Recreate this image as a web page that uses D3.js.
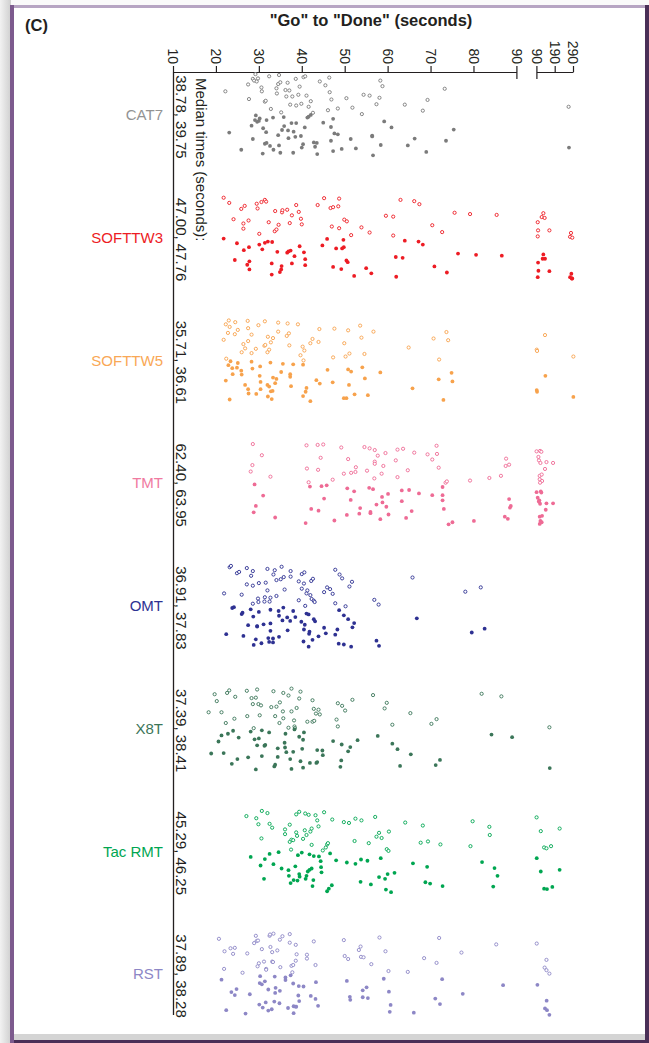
<!DOCTYPE html>
<html>
<head>
<meta charset="utf-8">
<script src="https://cdn.jsdelivr.net/npm/d3@7"></script>
<style>
  html, body { margin: 0; padding: 0; background: #fff; }
  svg { display: block; }
</style>
</head>
<body>
<svg id="chart"></svg>
<script>
// categories + labels
var categories = ["CAT7", "SOFTTW3", "SOFTTW5", "TMT", "OMT", "X8T", "Tac RMT", "RST"];
var medianLabels = ["38.78, 39.75", "47.00, 47.76", "35.71, 36.61", "62.40, 63.95",
                    "36.91, 37.83", "37.39, 38.41", "45.29, 46.25", "37.89, 38.28"];
var mainTicks = [10, 20, 30, 40, 50, 60, 70, 80, 90];
var tailTicks = [90, 190, 290];

// each point: [seconds, jitter] ; jitter -1..0 = open (upper half), 0..1 = filled (lower half)
var cat7Open = [[22.2,-0.55],[27.5,-0.71],[27.7,-0.37],[28.6,-0.84],[28.9,-0.80],[29.2,-0.95],[29.5,-0.78],[29.8,-0.85],[30.6,-0.64],[30.7,-0.55],[31.4,-0.31],[31.6,-0.33],[32.4,-0.90],[32.8,-0.14],[34.1,-0.62],[34.2,-0.50],[34.5,-0.72],[34.7,-0.93],[35.0,-0.76],[35.2,-0.06],[36.2,-0.58],[36.4,-0.43],[36.7,-0.75],[37.1,-0.57],[37.3,-0.24],[37.8,-0.43],[38.6,-0.84],[38.7,-0.22],[39.2,-0.47],[39.5,-0.66],[39.9,-0.26],[40.4,-0.88],[40.8,-0.90],[41.1,-0.45],[41.6,-0.19],[42.1,-0.32],[42.6,-0.05],[44.2,-0.78],[45.5,-0.69],[46.4,-0.87],[46.5,-0.53],[46.9,-0.36],[46.1,-0.11],[48.4,-0.15],[50.4,-0.39],[51.8,-0.17],[54.0,-0.02],[54.4,-0.47],[55.8,-0.45],[57.4,-0.25],[58.1,-0.40],[58.3,-0.80],[58.8,-0.67],[64.0,-0.24],[68.2,-0.10],[69.3,-0.35],[73.3,-0.61],[266,-0.19]];
var cat7Filled = [[23.1,0.41],[25.9,0.81],[28.3,0.25],[28.6,0.56],[29.1,0.12],[29.3,0.01],[29.6,0.16],[30.0,0.14],[30.2,0.08],[31.0,0.31],[30.9,0.90],[31.4,0.67],[31.8,0.65],[31.8,0.12],[31.7,0.40],[32.6,0.72],[33.3,0.06],[33.4,0.81],[34.5,0.47],[34.7,0.71],[35.0,0.88],[35.4,0.35],[35.8,0.05],[35.9,0.26],[36.8,0.36],[36.9,0.54],[37.6,0.19],[38.0,0.88],[38.1,0.39],[38.5,0.51],[38.7,0.19],[39.8,0.49],[40.0,0.76],[40.3,0.68],[40.7,0.29],[41.3,0.06],[41.6,0.04],[42.1,0.00],[42.8,0.64],[43.1,0.74],[43.5,0.65],[43.6,0.91],[45.0,0.18],[46.8,0.28],[46.8,0.60],[47.3,0.09],[47.3,0.84],[47.6,0.43],[48.4,0.45],[49.3,0.79],[51.4,0.56],[52.6,0.78],[56.4,0.48],[56.4,0.50],[56.6,0.94],[58.4,0.70],[59.2,0.15],[60.9,0.29],[64.7,0.71],[66.3,0.55],[69.0,0.86],[73.6,0.60],[75.4,0.34],[268,0.76]];

var softtw3Open = [[21.8,-0.93],[23.1,-0.81],[24.1,-0.43],[25.9,-0.67],[26.4,-0.33],[26.4,-0.21],[26.7,-0.74],[27.6,-0.40],[29.5,-0.79],[29.7,-0.68],[30.1,-0.09],[30.6,-0.83],[31.4,-0.88],[31.7,-0.84],[32.3,-0.36],[33.8,-0.62],[33.7,-0.15],[34.1,-0.19],[34.6,-0.30],[35.4,-0.59],[35.5,-0.64],[36.6,-0.65],[37.2,-0.34],[37.7,-0.52],[38.7,-0.76],[39.3,-0.60],[39.8,-0.44],[40.0,-0.31],[43.7,-0.76],[45.2,-0.92],[46.7,-0.69],[47.3,-0.71],[47.0,-0.26],[48.5,-0.73],[48.7,-0.91],[48.7,-0.22],[49.9,-0.42],[50.5,-0.38],[51.5,-0.06],[53.9,-0.24],[55.8,-0.12],[59.6,-0.51],[61.3,-0.49],[61.3,-0.05],[63.0,-0.88],[66.2,-0.85],[67.4,-0.78],[70.4,-0.29],[72.7,-0.13],[75.6,-0.58],[79.2,-0.55],[85.4,-0.53],[97.3,-0.36],[99.1,-0.17],[97.3,-0.03],[119,-0.48],[128,-0.57],[135,-0.46],[161,-0.17],[274,-0.02],[279,-0.11],[286,0.00]];
var softtw3Filled = [[21.8,0.02],[24.4,0.52],[24.9,0.13],[26.5,0.29],[27.3,0.63],[27.7,0.22],[27.8,0.55],[27.8,0.74],[30.1,0.16],[30.8,0.27],[31.4,0.12],[32.1,0.09],[33.1,0.10],[33.0,0.60],[33.0,0.86],[34.3,0.33],[34.9,0.80],[35.2,0.74],[35.3,0.66],[36.6,0.35],[36.9,0.32],[37.4,0.30],[37.7,0.60],[38.3,0.43],[39.5,0.20],[40.5,0.34],[40.8,0.50],[40.8,0.64],[44.8,0.18],[45.9,0.03],[47.3,0.68],[48.0,0.25],[49.2,0.73],[49.4,0.25],[49.7,0.05],[49.8,0.22],[50.4,0.53],[50.7,0.57],[52.2,0.89],[55.0,0.71],[56.2,0.83],[61.9,0.45],[62.0,0.91],[63.5,0.47],[64.0,0.07],[67.2,0.09],[68.2,0.16],[70.9,0.67],[73.8,0.81],[76.4,0.37],[80.6,0.40],[86.6,0.42],[97.3,0.92],[101,0.77],[99.1,0.58],[124,0.49],[128,0.39],[137,0.49],[161,0.78],[274,0.92],[281,0.84],[286,0.95],[283,0.95]];

var softtw5Open = [[21.8,-0.48],[22.3,-0.84],[22.8,-0.64],[23.0,-0.93],[23.2,-0.78],[24.4,-0.61],[24.5,-0.89],[25.1,-0.71],[26.0,-0.19],[26.4,-0.38],[26.8,-0.28],[27.4,-0.92],[27.5,-0.75],[27.5,-0.45],[28.3,-0.60],[28.3,-0.17],[29.3,-0.27],[29.9,-0.82],[31.4,-0.91],[31.3,-0.34],[31.5,-0.36],[32.0,-0.19],[32.1,-0.55],[32.4,-0.25],[32.8,-0.42],[33.3,-0.52],[34.5,-0.88],[34.5,-0.67],[36.5,-0.57],[36.7,-0.86],[37.0,-0.63],[37.1,-0.35],[39.1,-0.84],[39.7,-0.12],[40.2,-0.32],[40.6,-0.23],[42.0,-0.40],[42.5,-0.50],[43.9,-0.43],[44.1,-0.73],[47.3,-0.07],[47.6,-0.74],[49.9,-0.40],[50.2,-0.09],[50.8,-0.70],[51.1,-0.16],[53.6,-0.81],[53.9,-0.53],[54.6,-0.15],[56.7,-0.67],[64.9,-0.30],[70.7,-0.51],[72.0,-0.02],[73.7,-0.66],[74.1,-0.47],[22.4,-0.04],[40.4,0.00],[91.8,-0.25],[93.6,-0.22],[137,-0.59],[292,-0.09]];
var softtw5Filled = [[22.3,0.47],[22.9,0.11],[23.2,0.91],[23.4,0.02],[23.8,0.18],[23.9,0.32],[24.9,0.17],[25.1,0.06],[25.9,0.24],[26.0,0.33],[26.8,0.57],[27.5,0.67],[27.6,0.77],[28.3,0.03],[28.5,0.19],[29.4,0.78],[30.2,0.36],[30.3,0.14],[30.4,0.50],[30.4,0.67],[32.0,0.57],[32.1,0.84],[32.4,0.61],[32.7,0.05],[32.8,0.72],[33.0,0.90],[33.2,0.71],[33.3,0.40],[33.8,0.53],[34.1,0.43],[35.2,0.27],[35.6,0.08],[37.3,0.32],[37.3,0.38],[37.5,0.60],[38.0,0.09],[40.3,0.83],[40.3,0.10],[40.9,0.73],[41.1,0.64],[42.0,0.95],[43.4,0.46],[44.2,0.54],[46.0,0.22],[47.2,0.51],[49.8,0.88],[50.4,0.88],[50.8,0.21],[51.0,0.57],[51.5,0.26],[52.3,0.79],[54.1,0.16],[54.7,0.42],[55.4,0.81],[58.3,0.28],[65.8,0.65],[71.9,0.44],[73.0,0.92],[74.9,0.29],[75.1,0.49],[91.8,0.69],[93.6,0.73],[139,0.36],[292,0.85]];

var tmtOpen = [[28.6,-0.91],[30.7,-0.65],[28.5,-0.42],[28.1,-0.27],[32.7,-0.15],[41.1,-0.88],[43.7,-0.89],[45.0,-0.90],[41.2,-0.34],[41.6,-0.02],[43.8,-0.31],[44.4,-0.59],[47.2,-0.08],[49.2,-0.83],[50.8,-0.56],[49.8,-0.22],[51.5,-0.24],[52.5,-0.26],[52.6,-0.37],[54.6,-0.84],[55.8,-0.81],[57.0,-0.77],[57.7,-0.64],[57.0,-0.50],[57.0,-0.45],[56.9,-0.11],[55.2,-0.29],[58.6,-0.22],[59.0,-0.40],[59.5,-0.70],[61.9,-0.53],[62.3,-0.14],[62.3,-0.78],[63.6,-0.80],[64.7,-0.30],[66.2,-0.71],[69.3,-0.67],[70.4,-0.55],[71.4,-0.87],[71.5,-0.68],[71.9,-0.36],[73.5,-0.01],[73.8,-0.04],[79.2,-0.06],[83.7,-0.12],[86.4,-0.17],[87.5,-0.40],[87.6,-0.57],[88.3,-0.43],[91,-0.74],[110,-0.75],[117,-0.73],[101,-0.61],[104,-0.53],[112,-0.47],[137,-0.33],[145,-0.49],[181,-0.47],[108,-0.17],[119,-0.20],[108,-0.09],[121,-0.05],[110,-0.01]];
var tmtFilled = [[29.0,0.03],[31.0,0.29],[29.3,0.53],[28.8,0.68],[33.8,0.80],[41.9,0.08],[42.2,0.60],[43.9,0.64],[44.6,0.07],[45.8,0.05],[45.2,0.36],[40.9,0.93],[47.6,0.87],[50.6,0.12],[52.2,0.19],[51.4,0.39],[50.5,0.74],[53.6,0.58],[53.4,0.71],[55.7,0.11],[56.6,0.14],[56.0,0.67],[56.0,0.70],[57.4,0.50],[58.3,0.84],[58.7,0.32],[58.8,0.45],[59.7,0.55],[60.2,0.73],[60.1,0.25],[63.3,0.17],[65.0,0.16],[63.3,0.42],[64.3,0.81],[65.6,0.65],[67.3,0.24],[70.4,0.28],[72.8,0.09],[72.8,0.28],[72.8,0.40],[73.1,0.60],[74.2,0.96],[75.1,0.91],[80.1,0.88],[88.3,0.37],[88.5,0.57],[88.7,0.53],[87.3,0.78],[88.0,0.83],[91,0.21],[114,0.19],[117,0.22],[97,0.34],[106,0.40],[110,0.48],[103,0.43],[145,0.47],[181,0.47],[141,0.62],[108,0.78],[121,0.76],[112,0.88],[119,0.91],[108,0.95]];

var omtOpen = [[21.9,-0.29],[23.2,-0.90],[23.5,-0.93],[24.9,-0.76],[25.4,-0.79],[26.0,-0.26],[27.2,-0.88],[27.2,-0.50],[28.2,-0.70],[28.6,-0.81],[28.6,-0.47],[28.6,-0.05],[29.8,-0.17],[29.9,-0.09],[30.0,-0.53],[31.6,-0.54],[31.4,-0.20],[31.3,-0.10],[32.0,-0.86],[32.0,-0.36],[32.7,-0.19],[32.5,-0.10],[33.4,-0.73],[33.7,-0.83],[34.1,-0.23],[34.1,-0.60],[35.1,-0.62],[35.3,-0.91],[35.8,-0.67],[36.0,-0.38],[37.4,-0.81],[37.4,-0.68],[39.3,-0.13],[39.3,-0.57],[40.0,-0.40],[40.0,-0.74],[40.6,-0.78],[40.5,-0.52],[40.8,0.00],[41.1,-0.29],[41.3,-0.36],[42.0,-0.25],[42.3,-0.16],[42.2,-0.58],[42.6,-0.63],[42.8,-0.12],[43.0,-0.09],[45.2,-0.32],[45.9,-0.43],[46.6,-0.39],[47.2,-0.28],[47.8,-0.84],[48.8,-0.73],[49.4,-0.64],[51.1,-0.45],[51.7,-0.56],[56.9,-0.14],[57.9,-0.03],[65.8,-0.66],[78.1,-0.33],[81.7,-0.43],[47.8,-0.06],[50.2,0.01]];
var omtFilled = [[22.4,0.66],[23.8,0.05],[24.2,0.03],[26.0,0.19],[26.2,0.16],[26.4,0.70],[27.5,0.45],[28.1,0.08],[28.7,0.25],[29.3,0.78],[28.8,0.91],[29.6,0.48],[29.6,0.47],[30.0,0.14],[30.6,0.87],[31.1,0.43],[32.2,0.75],[32.4,0.84],[32.7,0.09],[32.7,0.41],[32.7,0.58],[33.3,0.76],[33.3,0.85],[34.6,0.12],[34.7,0.23],[34.7,0.72],[35.5,0.34],[35.7,0.04],[36.6,0.27],[36.7,0.57],[37.3,0.35],[38.0,0.12],[38.5,0.26],[39.9,0.37],[40.4,0.83],[40.5,0.55],[40.7,0.44],[41.1,0.18],[41.6,0.20],[41.8,0.60],[41.7,0.65],[41.6,0.95],[42.5,0.79],[42.8,0.31],[43.1,0.36],[43.9,0.71],[45.2,0.51],[45.6,0.64],[47.8,0.67],[48.3,0.55],[48.7,0.10],[48.6,0.88],[49.8,0.22],[49.8,0.90],[50.8,0.31],[51.5,0.95],[51.8,0.50],[52.2,0.40],[57.4,0.81],[58.0,0.93],[66.8,0.29],[79.6,0.62],[82.6,0.53]];

var x8tOpen = [[18.3,-0.38],[19.7,-0.80],[20.2,-0.64],[21.3,-0.38],[22.3,-0.13],[22.6,-0.83],[23.1,-0.89],[24.3,-0.23],[24.5,-0.74],[27.2,-0.88],[27.3,-0.29],[28.3,-0.71],[28.6,-0.57],[28.8,-0.01],[29.3,-0.72],[29.6,-0.91],[29.9,-0.57],[30.2,-0.31],[30.5,-0.54],[32.9,-0.50],[33.4,-0.87],[33.8,-0.29],[34.1,-0.51],[34.8,-0.13],[34.9,-0.61],[35.6,-0.40],[35.7,-0.83],[35.7,-0.24],[36.9,-0.77],[36.9,-0.02],[37.6,-0.93],[37.6,-0.40],[38.2,-0.19],[38.3,-0.05],[38.4,-0.01],[38.8,-0.48],[39.4,-0.70],[39.7,-0.86],[41.3,-0.16],[42.5,-0.66],[42.5,-0.16],[42.8,-0.46],[42.9,-0.18],[43.3,-0.35],[43.9,-0.44],[44.2,-0.33],[48.1,-0.21],[48.4,-0.05],[48.4,-0.59],[49.4,-0.53],[50.1,-0.42],[51.8,-0.67],[56.6,-0.78],[59.3,-0.47],[59.8,-0.60],[61.1,-0.09],[65.3,-0.36],[70.2,-0.11],[71.4,-0.22],[81.9,-0.81],[86.5,-0.75],[161,-0.03]];
var x8tFilled = [[18.9,0.58],[20.6,0.30],[21.3,0.16],[21.8,0.57],[22.8,0.12],[23.7,0.82],[24.0,0.05],[25.0,0.71],[25.3,0.21],[27.5,0.67],[28.1,0.07],[29.0,0.25],[29.3,0.95],[29.6,0.39],[30.0,0.23],[30.7,0.04],[30.7,0.64],[31.3,0.40],[31.5,0.38],[32.4,0.09],[33.6,0.88],[33.8,0.84],[34.4,0.66],[34.4,0.46],[36.0,0.33],[36.1,0.44],[36.2,0.12],[36.4,0.55],[37.3,0.71],[37.6,0.94],[38.0,0.54],[38.3,0.02],[39.4,0.19],[39.7,0.76],[40.1,0.47],[40.3,0.26],[40.3,0.91],[40.5,0.09],[41.9,0.80],[43.4,0.80],[43.6,0.50],[43.6,0.78],[44.8,0.51],[44.9,0.62],[47.3,0.29],[49.0,0.89],[49.2,0.74],[49.3,0.37],[50.8,0.53],[51.3,0.43],[53.0,0.27],[57.7,0.17],[61.1,0.35],[62.3,0.48],[62.9,0.87],[65.4,0.60],[71.2,0.85],[72.2,0.73],[84.2,0.14],[89.0,0.20],[163,0.92]];

var tacRmtOpen = [[27.1,-0.82],[29.4,-0.77],[29.9,-0.63],[30.6,-0.30],[30.7,-0.94],[32.0,-0.89],[32.5,-0.64],[33.1,-0.55],[36.1,-0.51],[36.1,-0.40],[37.2,-0.62],[37.2,-0.22],[37.6,-0.27],[38.0,-0.26],[37.5,-0.04],[38.7,-0.44],[38.7,-0.86],[38.9,-0.36],[39.4,-0.92],[40.3,-0.29],[40.8,-0.88],[40.7,-0.49],[41.1,-0.38],[41.6,-0.85],[42.0,-0.46],[42.3,-0.53],[42.3,-0.15],[43.2,-0.84],[43.6,-0.72],[43.9,-0.58],[44.9,-0.02],[45.2,-0.91],[45.6,-0.09],[45.9,-0.16],[46.1,-0.19],[47.1,-0.74],[49.8,-0.68],[51.0,-0.66],[52.3,-0.24],[52.5,-0.76],[53.9,-0.72],[55.6,-0.19],[57.1,-0.80],[57.4,-0.34],[58.0,-0.43],[58.6,-0.31],[59.8,-0.05],[60.2,-0.01],[60.3,-0.46],[64.1,-0.67],[67.7,-0.20],[68.2,-0.60],[69.4,-0.23],[72.3,-0.16],[79.3,-0.12],[79.8,-0.70],[83.7,-0.57],[83.8,-0.38],[91,-0.79],[114,-0.47],[132,-0.09],[145,-0.07],[170,-0.12],[217,-0.53]];
var tacRmtFilled = [[28.1,0.13],[30.4,0.33],[31.2,0.64],[31.4,0.18],[32.5,0.06],[33.4,0.30],[34.6,0.02],[35.3,0.40],[36.9,0.44],[37.0,0.57],[37.4,0.74],[38.1,0.67],[38.5,0.35],[39.0,0.68],[39.1,0.09],[39.4,0.53],[39.5,0.59],[40.0,0.03],[40.9,0.64],[41.1,0.57],[41.4,0.47],[41.8,0.43],[41.8,0.07],[42.3,0.40],[42.5,0.81],[42.7,0.67],[42.8,0.11],[44.0,0.12],[44.4,0.23],[44.5,0.37],[44.6,0.49],[45.9,0.93],[46.3,0.87],[46.6,0.05],[47.0,0.79],[48.0,0.21],[50.5,0.26],[52.5,0.29],[53.7,0.71],[53.8,0.19],[55.3,0.22],[56.1,0.77],[58.0,0.60],[58.4,0.16],[59.4,0.64],[59.6,0.89],[60.0,0.53],[60.8,0.95],[61.6,0.50],[65.9,0.28],[68.8,0.72],[69.2,0.36],[69.9,0.75],[72.8,0.81],[82.0,0.25],[84.6,0.82],[84.9,0.39],[85.6,0.57],[91.8,0.16],[114,0.47],[132,0.87],[148,0.88],[177,0.83],[217,0.43]];

var rstOpen = [[20.7,-0.82],[22.0,-0.53],[21.9,-0.12],[23.4,-0.60],[24.0,-0.47],[24.4,-0.61],[26.2,-0.03],[27.3,-0.48],[28.9,-0.72],[29.3,-0.89],[29.5,-0.77],[29.8,-0.78],[29.7,-0.18],[30.0,-0.25],[30.7,-0.58],[31.2,-0.29],[31.7,-0.12],[31.7,-0.10],[32.5,-0.89],[32.6,-0.92],[32.7,-0.63],[33.1,-0.51],[33.1,-0.29],[33.4,-0.94],[33.3,-0.28],[34.3,-0.55],[34.9,-0.80],[35.0,-0.16],[35.5,-0.88],[37.2,-0.93],[37.2,-0.73],[37.6,-0.19],[38.0,-0.21],[37.8,-0.04],[38.6,-0.31],[38.6,-0.68],[38.8,-0.46],[41.2,-0.45],[41.2,-0.36],[42.8,-0.76],[43.2,-0.21],[49.8,-0.79],[50.0,-0.42],[50.8,-0.35],[53.3,-0.56],[53.7,-0.64],[53.8,-0.40],[54.4,-0.39],[56.2,-0.23],[58.1,-0.85],[59.5,-0.53],[60.2,-0.07],[64.7,-0.05],[68.5,-0.37],[71.4,-0.26],[72.0,-0.84],[77.2,-0.50],[85.3,-0.69],[91.8,-0.71],[145,-0.33],[135,-0.15],[145,-0.09],[161,-0.01]];
var rstFilled = [[21.3,0.13],[22.4,0.84],[23.6,0.42],[24.4,0.49],[24.8,0.35],[26.9,0.92],[27.9,0.47],[30.1,0.71],[30.3,0.05],[30.2,0.21],[30.7,0.24],[31.4,0.17],[30.9,0.78],[31.6,0.66],[32.2,0.36],[32.2,0.85],[33.0,0.82],[33.7,0.06],[33.8,0.44],[33.9,0.32],[33.6,0.64],[34.9,0.39],[34.8,0.68],[36.2,0.08],[36.2,0.14],[36.8,0.79],[37.4,0.03],[38.0,0.22],[38.1,0.75],[38.1,0.91],[38.6,0.76],[38.7,0.76],[39.2,0.50],[39.3,0.28],[39.4,0.63],[40.4,0.29],[42.1,0.51],[43.2,0.58],[43.3,0.19],[43.8,0.74],[50.5,0.16],[51.2,0.53],[51.3,0.60],[54.2,0.38],[54.2,0.54],[55.1,0.31],[55.4,0.56],[59.1,0.11],[60.3,0.41],[60.7,0.72],[60.5,0.88],[66.1,0.90],[71.1,0.57],[72.2,0.70],[72.7,0.12],[77.5,0.46],[86.9,0.26],[95.5,0.25],[146,0.62],[137,0.80],[148,0.84],[161,0.95]];

// colours, one per category (same order)
var catColors = ["#7b7b7b", "#ed1c24", "#f7a24c", "#ee6b95", "#2e3192", "#3b7659", "#00a651", "#8d87c6"];
var labelColors = ["#939393", "#ed1c24", "#f9a856", "#f07aa0", "#2e3192", "#3b7659", "#00a651", "#8d87c6"];

var openSets = [cat7Open, softtw3Open, softtw5Open, tmtOpen, omtOpen, x8tOpen, tacRmtOpen, rstOpen];
var filledSets = [cat7Filled, softtw3Filled, softtw5Filled, tmtFilled, omtFilled, x8tFilled, tacRmtFilled, rstFilled];

//size of screen
var screen = {width: 649, height: 1043};
var margins = {left: 173, top: 72};
var plot = {mainW: 343.4, gap: 20, tailW: 36.6, height: 945};
var font = "'Liberation Sans', Arial, Helvetica, sans-serif";

var svg = d3.select("#chart")
    .attr("width", screen.width)
    .attr("height", screen.height)
    .style("font-family", font);

// frame + shadow
var defs = svg.append("defs");
var shade = defs.append("linearGradient").attr("id", "shade").attr("x1", 0).attr("x2", 1);
shade.append("stop").attr("offset", 0).attr("stop-color", "#f2f2f2");
shade.append("stop").attr("offset", 1).attr("stop-color", "#cfcfcf");
svg.append("rect").attr("x", 0).attr("y", 0).attr("width", screen.width).attr("height", screen.height).attr("fill", "#fafafa");
svg.append("rect").attr("x", 0).attr("y", 0).attr("width", 11).attr("height", screen.height).attr("fill", "url(#shade)");
svg.append("rect").attr("x", 10).attr("y", 5).attr("width", 639).attr("height", 1038).attr("fill", "#fff");
svg.append("rect").attr("x", 10).attr("y", 5).attr("width", 639).attr("height", 3).attr("fill", "#b7a5c3");
svg.append("rect").attr("x", 14).attr("y", 1034).attr("width", 632).attr("height", 6).attr("fill", "#d4d4d4");
svg.append("rect").attr("x", 10).attr("y", 1040).attr("width", 639).attr("height", 3).attr("fill", "#4a2f57");
svg.append("rect").attr("x", 10).attr("y", 5).attr("width", 4).attr("height", 1038).attr("fill", "#7d5b8e");
svg.append("rect").attr("x", 645).attr("y", 5).attr("width", 4).attr("height", 1038).attr("fill", "#4a2f57");

svg.append("text").attr("x", 25).attr("y", 31)
    .attr("font-size", 16.5).attr("font-weight", "bold").attr("fill", "#231f20")
    .text("(C)");
svg.append("text").attr("x", 371).attr("y", 26)
    .attr("text-anchor", "middle")
    .attr("font-size", 16.5).attr("font-weight", "bold").attr("fill", "#231f20")
    .text("\"Go\" to \"Done\" (seconds)");

var g = svg.append("g").attr("transform", "translate(" + margins.left + "," + margins.top + ")");

// broken x scale
var x1 = d3.scaleLinear().domain([10, 90]).range([0, plot.mainW]);
var x2 = d3.scaleLinear().domain([90, 290]).range([plot.mainW + plot.gap, plot.mainW + plot.gap + plot.tailW]);
var xPos = function(v) { return v <= 90 ? x1(v) : x2(v); };

var yBand = d3.scaleBand().domain(categories).range([0, plot.height]).paddingInner(0.3).paddingOuter(0);
var jit = d3.scaleLinear().domain([-1, 1]).range([0, yBand.bandwidth()]);

var styleAxis = function(sel) {
  sel.attr("font-family", font).attr("font-size", 14);
  sel.selectAll("path, line").attr("stroke", "#231f20").attr("stroke-width", 1.2);
  sel.selectAll("text")
    .attr("fill", "#231f20")
    .attr("transform", "rotate(90)")
    .attr("x", -8).attr("y", 0).attr("dy", "0.36em")
    .style("text-anchor", "end");
};
g.append("g").call(d3.axisTop(x1).tickValues(mainTicks).tickSize(6).tickSizeOuter(0)).call(styleAxis);
g.append("g").call(d3.axisTop(x2).tickValues(tailTicks).tickSize(6).tickSizeOuter(0)).call(styleAxis);

// break marks hanging below the axis
g.selectAll(".brk").data([x1(90), x2(90)]).enter().append("line")
    .attr("class", "brk")
    .attr("x1", function(d) { return d + 0.5; }).attr("x2", function(d) { return d + 0.5; })
    .attr("y1", 0).attr("y2", 7)
    .attr("stroke", "#231f20").attr("stroke-width", 1.2);

// left axis line
g.append("line").attr("x1", 0.5).attr("x2", 0.5).attr("y1", 0).attr("y2", plot.height - 2)
    .attr("stroke", "#231f20").attr("stroke-width", 1.3);

// category labels
g.selectAll(".catlab").data(categories).enter().append("text")
    .attr("class", "catlab")
    .attr("x", -10)
    .attr("y", function(d) { return yBand(d) + yBand.bandwidth() / 2; })
    .attr("dy", "0.35em")
    .attr("text-anchor", "end")
    .attr("font-size", 15)
    .attr("fill", function(d, i) { return labelColors[i]; })
    .text(function(d) { return d; });

// median labels (rotated)
g.selectAll(".med").data(categories).enter().append("text")
    .attr("class", "med")
    .attr("transform", function(d) { return "translate(3," + (yBand(d) + yBand.bandwidth() / 2 + 2) + ") rotate(90)"; })
    .attr("text-anchor", "middle")
    .attr("font-size", 15)
    .attr("fill", "#231f20")
    .text(function(d, i) { return medianLabels[i]; });
g.append("text")
    .attr("transform", "translate(23,6) rotate(90)")
    .attr("font-size", 15)
    .attr("fill", "#231f20")
    .text("Median times (seconds):");

// points
categories.forEach(function(cat, i) {
  var top = yBand(cat);
  var grp = g.append("g").attr("class", "cat");
  grp.selectAll(".open").data(openSets[i]).enter().append("circle")
      .attr("class", "open")
      .attr("cx", function(d) { return xPos(d[0]); })
      .attr("cy", function(d) { return top + jit(d[1]); })
      .attr("r", 1.6)
      .attr("fill", "#fff")
      .attr("stroke", catColors[i])
      .attr("stroke-width", 0.9);
  grp.selectAll(".filled").data(filledSets[i]).enter().append("circle")
      .attr("class", "filled")
      .attr("cx", function(d) { return xPos(d[0]); })
      .attr("cy", function(d) { return top + jit(d[1]); })
      .attr("r", 1.9)
      .attr("fill", catColors[i]);
});
</script>
</body>
</html>
